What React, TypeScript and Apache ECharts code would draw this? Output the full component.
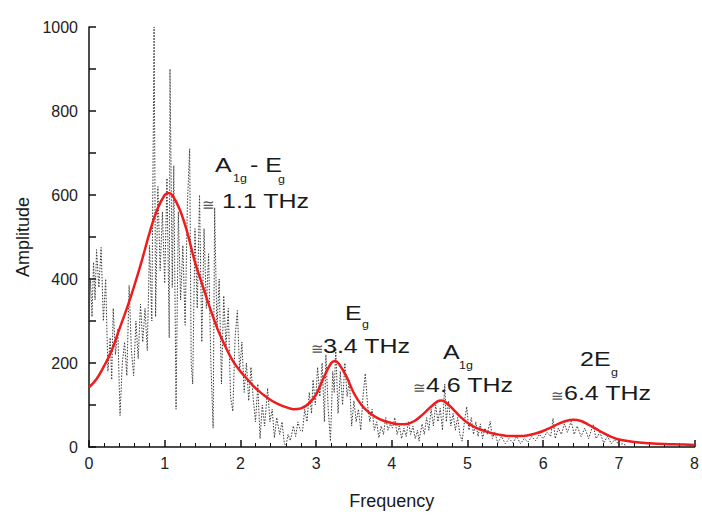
import React, { useEffect, useRef } from "react";
import * as echarts from "echarts";

const rawFreq: number[] = [
  0.0, 0.02, 0.04, 0.06, 0.08, 0.1, 0.13, 0.16, 0.19, 0.22, 0.25, 0.28, 0.3, 0.32, 0.35, 0.38, 0.41, 0.44, 0.47, 0.5,
  0.53, 0.56, 0.59, 0.62, 0.65, 0.68, 0.71, 0.74, 0.77, 0.8, 0.83, 0.86, 0.88, 0.91, 0.94, 0.97, 1.0, 1.03, 1.06, 1.07,
  1.1, 1.12, 1.15, 1.18, 1.21, 1.24, 1.27, 1.3, 1.33, 1.35, 1.37, 1.4, 1.43, 1.46, 1.49, 1.52, 1.55, 1.58, 1.61, 1.64,
  1.66, 1.69, 1.72, 1.75, 1.78, 1.81, 1.84, 1.87, 1.9, 1.93, 1.96, 1.99, 2.02, 2.05, 2.08, 2.11, 2.14, 2.17, 2.2, 2.23,
  2.26, 2.29, 2.32, 2.36, 2.39, 2.42, 2.45, 2.48, 2.52, 2.55, 2.58, 2.6, 2.63, 2.66, 2.7, 2.73, 2.76, 2.79, 2.82, 2.85,
  2.88, 2.91, 2.94, 2.96, 2.99, 3.02, 3.05, 3.08, 3.11, 3.13, 3.16, 3.19, 3.22, 3.24, 3.26, 3.29, 3.32, 3.35, 3.38, 3.41,
  3.44, 3.47, 3.5, 3.53, 3.56, 3.59, 3.62, 3.65, 3.68, 3.71, 3.74, 3.77, 3.8, 3.83, 3.86, 3.89, 3.92, 3.95, 3.98, 4.01,
  4.04, 4.07, 4.1, 4.13, 4.16, 4.19, 4.22, 4.25, 4.28, 4.31, 4.34, 4.36, 4.4, 4.43, 4.46, 4.49, 4.52, 4.55, 4.58, 4.61,
  4.64, 4.67, 4.7, 4.72, 4.75, 4.78, 4.81, 4.84, 4.87, 4.9, 4.93, 4.96, 4.99, 5.02, 5.05, 5.08, 5.11, 5.14, 5.17, 5.2,
  5.23, 5.26, 5.3, 5.33, 5.36, 5.4, 5.45, 5.5, 5.55, 5.6, 5.65, 5.7, 5.75, 5.8, 5.85, 5.9, 5.95, 6.0, 6.05, 6.1,
  6.13, 6.16, 6.2, 6.24, 6.28, 6.32, 6.37, 6.41, 6.45, 6.5, 6.55, 6.6, 6.66, 6.7, 6.75, 6.8, 6.85, 6.9, 6.95, 7.0,
  7.05, 7.1,
];

const rawAmp: number[] = [
  300, 400, 310, 440, 350, 470, 380, 475, 300, 400, 180, 260, 160, 330, 220, 280, 75, 200, 250, 170,
  385, 230, 170, 300, 210, 340, 250, 330, 230, 480, 300, 1000, 310, 620, 420, 560, 390, 640, 260, 900,
  380, 670, 90, 560, 350, 480, 290, 580, 710, 200, 150, 520, 330, 600, 250, 520, 330, 460, 200, 45,
  570, 280, 400, 150, 360, 240, 330, 120, 85, 260, 325, 180, 250, 130, 200, 110, 190, 115, 60, 150,
  20, 100, 50, 140, 60, 90, 22, 70, 30, 60, 10, 0, 30, 15, 50, 25, 60, 40, 37, 90,
  60, 130, 80, 160, 100, 190, 120, 200, 60, 220, 90, 14, 180, 130, 235, 80, 180, 100, 200, 120,
  160, 50, 110, 60, 90, 40, 120, 175, 100, 60, 90, 40, 60, 22, 50, 30, 70, 40, 55, 45,
  70, 30, 50, 20, 45, 25, 60, 30, 50, 20, 40, 14, 55, 30, 70, 40, 90, 50, 100, 60,
  92, 40, 150, 60, 110, 50, 80, 40, 70, 30, 14, 60, 96, 40, 70, 30, 60, 25, 55, 20,
  45, 30, 61, 20, 35, 10, 25, 8, 20, 10, 25, 8, 20, 12, 25, 15, 30, 20, 35, 25,
  68, 20, 45, 30, 55, 35, 61, 30, 50, 25, 45, 20, 53, 20, 35, 10, 25, 8, 18, 5,
  8, 3,
];

const fitFreq: number[] = [
  0.0, 0.1, 0.2, 0.3, 0.4, 0.5, 0.6, 0.7, 0.8, 0.9, 1.0, 1.05, 1.1, 1.2, 1.3, 1.4, 1.5, 1.6, 1.7, 1.8,
  1.9, 2.0, 2.1, 2.2, 2.3, 2.4, 2.5, 2.6, 2.7, 2.8, 2.9, 3.0, 3.1, 3.2, 3.25, 3.3, 3.4, 3.5, 3.6, 3.7,
  3.8, 3.9, 4.0, 4.1, 4.2, 4.3, 4.4, 4.5, 4.6, 4.65, 4.7, 4.8, 4.9, 5.0, 5.1, 5.2, 5.3, 5.4, 5.5, 5.6,
  5.7, 5.8, 5.9, 6.0, 6.1, 6.2, 6.3, 6.4, 6.5, 6.6, 6.7, 6.8, 6.9, 7.0, 7.2, 7.4, 7.6, 7.8, 8.0,
];

const fitAmp: number[] = [
  142, 162, 193, 230, 280, 330, 385, 445, 510, 565, 600, 605, 600, 565, 510, 440, 385, 330, 280, 240,
  205, 180, 160, 140, 125, 112, 102, 95, 90, 92, 103, 125, 165, 200, 205, 198, 168, 128, 100, 82,
  70, 62, 57, 54, 55, 62, 76, 93, 108, 111, 108, 92, 73, 58, 47, 40, 34, 30, 27, 26,
  26, 28, 32, 38, 46, 55, 62, 65, 62, 53, 43, 33, 24, 18, 12, 9, 7, 6, 5,
];

const xTicks: number[] = [0, 1, 2, 3, 4, 5, 6, 7, 8];
const yTicks: number[] = [0, 200, 400, 600, 800, 1000];

const FONT = "Liberation Sans, Arial, sans-serif";
const INK = "#1a1a1a";

type Piece = { x: number; y: number; t: string; size: number; sx?: number; color?: string };

// annotation pieces: x left, y centre, text, font size
const annotations: Piece[] = [
  { x: 215, y: 165, t: "A", size: 20 },
  { x: 233, y: 178, t: "1g", size: 10 },
  { x: 250, y: 165, t: "- E", size: 20 },
  { x: 278, y: 179, t: "g", size: 10 },
  { x: 202, y: 204, t: "≅", size: 15, sx: 1, color: "#555" },
  { x: 222, y: 201, t: "1.1 THz", size: 20 },

  { x: 345, y: 313, t: "E", size: 20 },
  { x: 362, y: 324, t: "g", size: 10 },
  { x: 311, y: 348, t: "≅", size: 15, sx: 1, color: "#555" },
  { x: 323, y: 346, t: "3.4 THz", size: 20 },

  { x: 443, y: 352, t: "A", size: 20 },
  { x: 459, y: 365, t: "1g", size: 10 },
  { x: 413, y: 387, t: "≅", size: 15, sx: 1, color: "#555" },
  { x: 426, y: 385, t: "4.6 THz", size: 20 },

  { x: 580, y: 359, t: "2E", size: 20 },
  { x: 611, y: 372, t: "g", size: 10 },
  { x: 551, y: 395, t: "≅", size: 15, sx: 1, color: "#555" },
  { x: 564, y: 393, t: "6.4 THz", size: 20 },
];

export default function App() {
  const ref = useRef<HTMLDivElement>(null);
  useEffect(() => {
    if (!ref.current) return;
    const chart = echarts.init(ref.current, null, { renderer: "svg" });
    const graphic = annotations.map((p) => ({
      type: "text",
      x: p.x,
      y: p.y,
      scaleX: p.sx ?? 1.25,
      z: 100,
      style: {
        text: p.t,
        font: `${p.size}px ${FONT}`,
        fill: p.color ?? INK,
        textAlign: "left",
        textVerticalAlign: "middle",
        align: "left",
        verticalAlign: "middle",
      },
    }));
    chart.setOption({
      animation: false,
      backgroundColor: "#ffffff",
      grid: { left: 89, top: 27, width: 608, height: 429, containLabel: false },
      xAxis: {
        type: "value",
        min: xTicks[0],
        max: xTicks[xTicks.length - 1],
        interval: 1,
        name: "Frequency",
        nameLocation: "middle",
        nameGap: 45,
        nameTextStyle: { fontSize: 18, fontFamily: FONT, color: INK },
        axisLine: { show: true, onZero: false, lineStyle: { color: "#111", width: 1.5 } },
        axisTick: { show: true, inside: true, length: 7, lineStyle: { color: "#111", width: 1.5 } },
        minorTick: { show: true, splitNumber: 5, length: 4, lineStyle: { color: "#111", width: 1 } },
        splitLine: { show: false },
        axisLabel: { fontSize: 16, fontFamily: FONT, color: "#222", margin: 8 },
      },
      yAxis: {
        type: "value",
        min: yTicks[0],
        max: yTicks[yTicks.length - 1],
        interval: 200,
        name: "Amplitude",
        nameLocation: "middle",
        nameRotate: 90,
        nameGap: 54,
        nameTextStyle: { fontSize: 18, fontFamily: FONT, color: INK },
        axisLine: { show: true, lineStyle: { color: "#111", width: 1.5 } },
        axisTick: { show: true, inside: true, length: 7, lineStyle: { color: "#111", width: 1.5 } },
        minorTick: { show: true, splitNumber: 2, length: 7, lineStyle: { color: "#111", width: 1.5 } },
        splitLine: { show: false },
        axisLabel: {
          fontSize: 16,
          fontFamily: FONT,
          color: "#222",
          margin: 11,
          formatter: (v: number) => String(v),
        },
      },
      series: [
        {
          type: "line",
          data: rawFreq.map((f, i) => [f, rawAmp[i]]),
          showSymbol: false,
          lineStyle: { color: "#3a3a3a", width: 1, type: [1.5, 1.5] },
          z: 2,
        },
        {
          type: "line",
          data: fitFreq.map((f, i) => [f, fitAmp[i]]),
          showSymbol: false,
          smooth: 0.4,
          lineStyle: { color: "#ee1c1c", width: 2.5 },
          z: 3,
        },
      ],
      graphic,
    });
    return () => chart.dispose();
  }, []);
  return (
    <div
      ref={ref}
      style={{ position: "absolute", left: 0, top: 0, width: 702, height: 515 }}
    />
  );
}
